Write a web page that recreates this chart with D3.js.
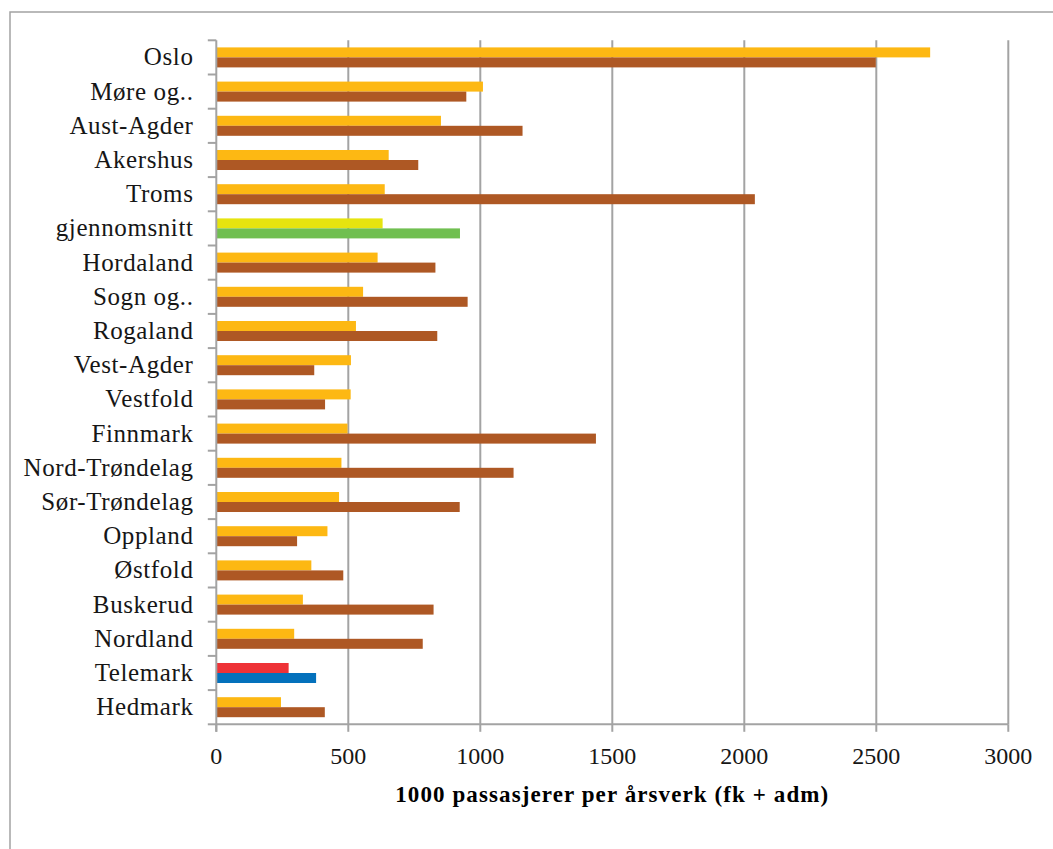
<!DOCTYPE html>
<html>
<head>
<meta charset="utf-8">
<script src="https://cdn.jsdelivr.net/npm/d3@7/dist/d3.min.js"></script>
<style>
  html, body { margin: 0; padding: 0; background: #fff; }
  svg { display: block; }
</style>
</head>
<body>
<script>
const categories = ["Oslo","Møre og..","Aust-Agder","Akershus","Troms","gjennomsnitt","Hordaland","Sogn og..","Rogaland","Vest-Agder","Vestfold","Finnmark","Nord-Trøndelag","Sør-Trøndelag","Oppland","Østfold","Buskerud","Nordland","Telemark","Hedmark"];
const seriesTop = [2704,1010,851,653,638,630,611,556,529,510,509,497,474,465,421,360,328,295,274,245];
const seriesBottom = [2498,947,1160,765,2040,923,830,952,837,371,412,1438,1126,922,306,481,823,782,378,411];
const xTicks = [0,500,1000,1500,2000,2500,3000];
const xTitle = "1000 passasjerer per årsverk (fk + adm)";

(function () {
const colTop = "#FDB813", colBottom = "#AE5824";
const special = {
  "gjennomsnitt": ["#E6E40F", "#70BF50"],
  "Telemark": ["#EE3237", "#0471BC"]
};

const W = 1053, H = 849;
const svg = d3.select("body").append("svg").attr("width", W).attr("height", H);
const grey = "#A3A3A3";

// outer frame
svg.append("rect").attr("x", 10).attr("y", 12).attr("width", W + 20).attr("height", H + 20)
  .attr("fill", "none").attr("stroke", grey).attr("stroke-width", 1.5);

const pLeft = 216.3, pRight = 1008.3, pTop = 40.3, pBottom = 724.3;
const x = d3.scaleLinear().domain([0, 3000]).range([pLeft, pRight]);
const y = d3.scaleBand().domain(categories).range([pTop, pBottom]).paddingInner(0.415).paddingOuter(0.2075);
const ySub = d3.scaleBand().domain(["top", "bottom"]).range([0, y.bandwidth()]);
const yIdx = d3.scaleLinear().domain([0, categories.length]).range([pTop, pBottom]);

// gridlines
svg.append("g").selectAll("line").data(xTicks.filter(d => d > 0)).join("line")
  .attr("x1", d => x(d)).attr("x2", d => x(d)).attr("y1", pTop).attr("y2", pBottom)
  .attr("stroke", grey).attr("stroke-width", 2);

// bars
const rows = categories.map((c, i) => ({ c, a: seriesTop[i], b: seriesBottom[i] }));
const g = svg.append("g");
g.selectAll("rect.a").data(rows).join("rect").attr("class", "a")
  .attr("x", x(0)).attr("y", d => y(d.c) + ySub("top"))
  .attr("width", d => x(d.a) - x(0)).attr("height", ySub.bandwidth())
  .attr("fill", d => special[d.c] ? special[d.c][0] : colTop);
g.selectAll("rect.b").data(rows).join("rect").attr("class", "b")
  .attr("x", x(0)).attr("y", d => y(d.c) + ySub("bottom"))
  .attr("width", d => x(d.b) - x(0)).attr("height", ySub.bandwidth())
  .attr("fill", d => special[d.c] ? special[d.c][1] : colBottom);

// y axis line and ticks
svg.append("line").attr("x1", pLeft).attr("x2", pLeft).attr("y1", pTop).attr("y2", pBottom + 7.5)
  .attr("stroke", grey).attr("stroke-width", 2);
svg.append("g").selectAll("line").data(d3.range(categories.length + 1)).join("line")
  .attr("x1", pLeft - 8.5).attr("x2", pLeft).attr("y1", d => yIdx(d)).attr("y2", d => yIdx(d))
  .attr("stroke", grey).attr("stroke-width", 2);

// x axis line and ticks
svg.append("line").attr("x1", pLeft).attr("x2", pRight).attr("y1", pBottom).attr("y2", pBottom)
  .attr("stroke", grey).attr("stroke-width", 2);
svg.append("g").selectAll("line").data(xTicks).join("line")
  .attr("x1", d => x(d)).attr("x2", d => x(d)).attr("y1", pBottom).attr("y2", pBottom + 7.5)
  .attr("stroke", grey).attr("stroke-width", 2);

const font = "'Liberation Serif', 'Times New Roman', serif";

// category labels
svg.append("g").selectAll("text").data(categories).join("text")
  .attr("x", 193.5).attr("y", d => y(d) + y.bandwidth() / 2 + 8)
  .attr("text-anchor", "end")
  .attr("font-family", font).attr("font-size", 25).attr("letter-spacing", 0.6)
  .attr("fill", "#161616")
  .text(d => d);

// x tick labels
svg.append("g").selectAll("text").data(xTicks).join("text")
  .attr("x", d => x(d)).attr("y", 764)
  .attr("text-anchor", "middle")
  .attr("font-family", font).attr("font-size", 24)
  .attr("fill", "#161616")
  .text(d => d);

// x title
svg.append("text").attr("x", (pLeft + pRight) / 2).attr("y", 802)
  .attr("text-anchor", "middle")
  .attr("font-family", font).attr("font-size", 23).attr("font-weight", "bold").attr("letter-spacing", 1.1)
  .attr("fill", "#000")
  .text(xTitle);
})();
</script>
</body>
</html>
